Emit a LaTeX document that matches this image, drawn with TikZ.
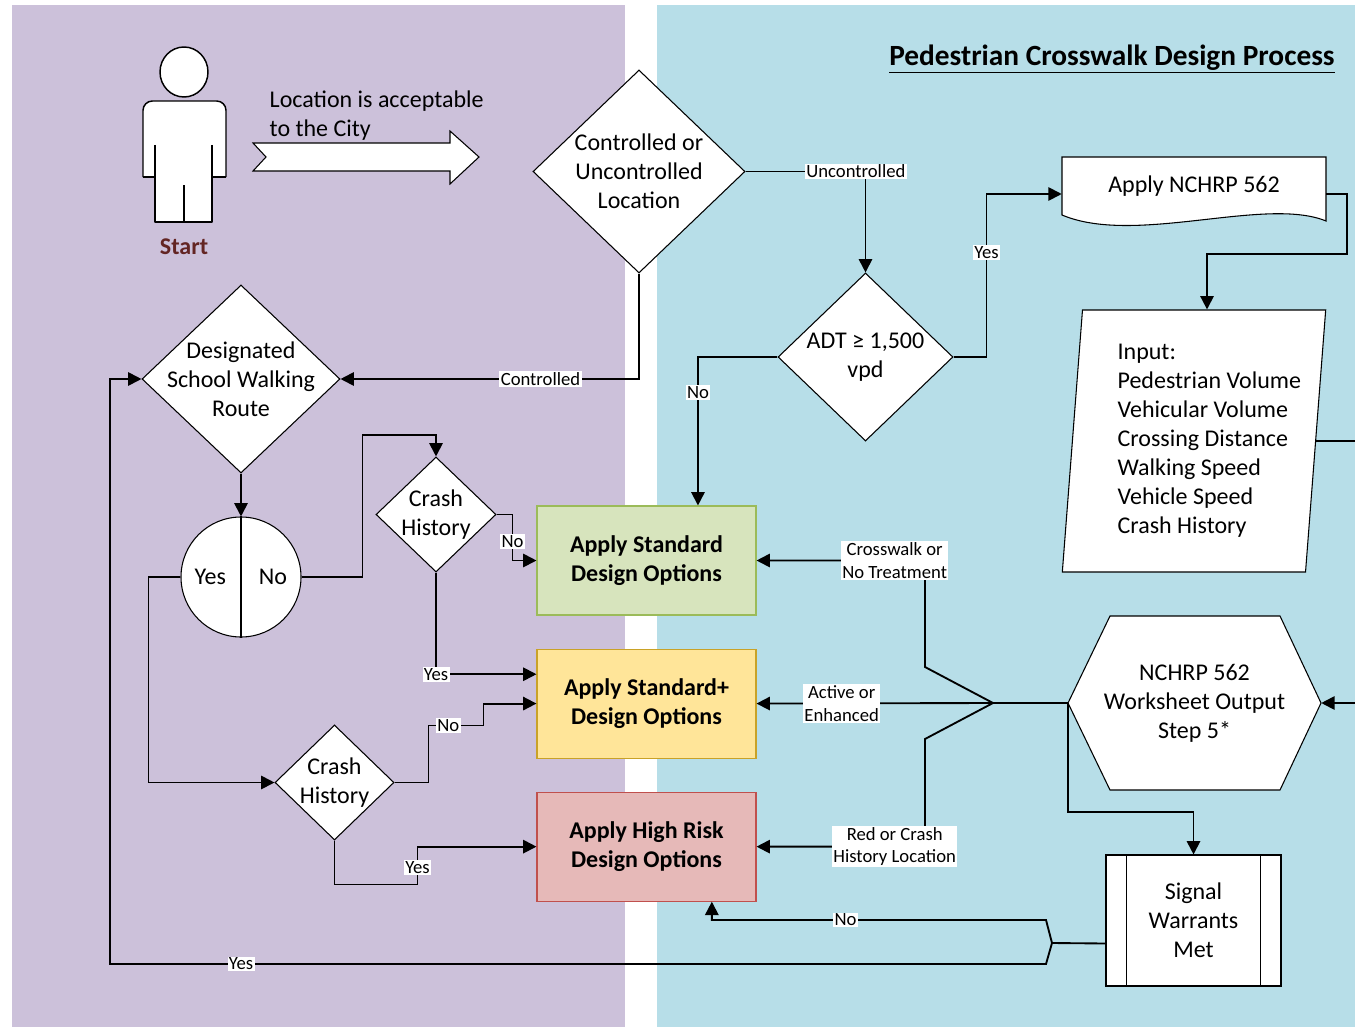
\documentclass[tikz,border=0pt]{standalone}
\usepackage{fontspec}
\setmainfont{Carlito}
\usepackage{tikz}
\usetikzlibrary{arrows.meta,shapes.geometric,positioning,calc}

\definecolor{lilac}{HTML}{CCC1DA}
\definecolor{aqua}{HTML}{B7DEE8}
\definecolor{stdfill}{HTML}{D7E4BD}
\definecolor{stdline}{HTML}{9BBB59}
\definecolor{plusfill}{HTML}{FFE599}
\definecolor{plusline}{HTML}{C9A227}
\definecolor{riskfill}{HTML}{E6B9B8}
\definecolor{riskline}{HTML}{C0504D}
\definecolor{startred}{HTML}{632523}

\begin{document}
\begin{tikzpicture}[x=0.75pt, y=-0.75pt, node distance=24.75pt,
	font=\fontsize{18}{21.75}\selectfont,
	shp/.style={draw, line width=0.8pt, fill=white},
	body/.style={draw, line width=1.1pt, line join=round},
	dia/.style={shp, diamond, inner sep=-8pt, align=center},
	box/.style={draw, line width=0.8pt, minimum width=164.25pt, minimum height=81.75pt, align=center, font=\fontsize{18}{21.75}\selectfont\bfseries},
	conn/.style={line width=1.4pt, -{Triangle[length=10pt, width=10pt]}},
	wire/.style={line width=1.4pt},
	lbl/.style={fill=white, inner sep=1pt, align=center, font=\fontsize{14}{17}\selectfont}]
	\useasboundingbox (0,0) rectangle (1355,1027);
	\fill[lilac] (12,5) rectangle (625,1027);
	\fill[aqua] (657,5) rectangle (1355,1027);

	% start figure and arrow
	\draw[body, fill=white] (184,72) ellipse [x radius=24, y radius=25];
	\fill[white, rounded corners=7pt] (143,177) -- (143,101) -- (226,101) -- (226,177) -- cycle;
	\fill[white] (143,150) rectangle (226,177);
	\fill[white] (155,170) rectangle (212,222);
	\draw[body, rounded corners=7pt] (143,177) -- (143,101) -- (226,101) -- (226,177);
	\draw[body] (143,177) -- (155,177) -- (155,222) -- (212,222) -- (212,177) -- (226,177);
	\draw[body] (155,145) -- (155,177) (212,145) -- (212,177) (184,185) -- (184,222);
	\node (start) [text=startred, font=\fontsize{18}{21.75}\selectfont\bfseries] at (184,247) {Start};
	\node (loc) [align=left, anchor=west] at (265,116) {Location is acceptable\\to the City};
	\draw[shp] (253,143) -- (450,143) -- (450,131) -- (479,157) -- (450,184) -- (450,171) -- (253,171) -- (266,157) -- cycle;

	\node (title) at (1112,59) {\fontsize{22}{26}\selectfont\bfseries\underline{Pedestrian Crosswalk Design Process}};

	% decisions
	\node (ctrl) [dia, minimum width=159pt, minimum height=152.25pt] at (639,171.5) {Controlled or\\Uncontrolled\\Location};
	\node (adt) [dia, minimum width=131.25pt, minimum height=126pt] at (865.5,357) {ADT ≥ 1,500\\vpd};
	\node (dswr) [dia, minimum width=148.5pt, minimum height=141pt] at (241,379) {Designated\\School Walking\\Route};
	\node (ch1) [dia, minimum width=90pt, minimum height=86.25pt] at (436,514.5) {Crash\\History};
	\node (ch2) [dia, minimum width=89.25pt, minimum height=86.25pt] at (334.5,782.5) {Crash\\History};

	\node (yn) [shp, circle, minimum size=90pt, inner sep=0pt] at (241,577) {};
	\draw[line width=0.8pt] (yn.north) -- (yn.south);
	\node (yes) at ([xshift=-23pt]yn.center) {Yes};
	\node (no) at ([xshift=24pt]yn.center) {No};

	% design options
	\node (std) [box, fill=stdfill, draw=stdline] at (646.5,560.5) {Apply Standard\\Design Options};
	\node (stdp) [box, fill=plusfill, draw=plusline, below=of std] {Apply Standard+\\Design Options};
	\node (hr) [box, fill=riskfill, draw=riskline, below=of stdp] {Apply High Risk\\Design Options};

	% NCHRP side
	\draw[shp] (1062,157) -- (1326,157) -- (1326,221) .. controls (1265,196) and (1135,246) .. (1062,215) -- cycle;
	\node (doc) [minimum width=198pt] at (1194,186) {Apply NCHRP 562};
	\node (inp) [shp, trapezium, trapezium left angle=84.3, trapezium right angle=95.7, trapezium stretches=true, minimum width=198pt, minimum height=196.5pt, align=left] at (1194,441)
		{\hspace*{23pt}Input:\\\hspace*{23pt}Pedestrian Volume\\\hspace*{23pt}Vehicular Volume\\\hspace*{23pt}Crossing Distance\\\hspace*{23pt}Walking Speed\\\hspace*{23pt}Vehicle Speed\\\hspace*{23pt}Crash History};
	\draw[shp] (1068,703) -- (1110,616) -- (1280,616) -- (1321,703) -- (1280,790) -- (1110,790) -- cycle;
	\node (hex) [minimum width=189.75pt, minimum height=130.5pt, align=center] at (1194.5,703) {NCHRP 562\\Worksheet Output\\Step 5*};
	\node (sig) [shp, minimum width=131.25pt, minimum height=98.25pt, align=center] at (1193.5,920.5) {Signal\\Warrants\\Met};
	\draw[line width=0.8pt] ([xshift=15.75pt]sig.north west) -- ([xshift=15.75pt]sig.south west);
	\draw[line width=0.8pt] ([xshift=-15.75pt]sig.north east) -- ([xshift=-15.75pt]sig.south east);

	\coordinate (rim1) at (1355,441);
	\coordinate (rim2) at (1355,703);
	\coordinate (fork) at (993,703);
	\coordinate (fork2) at (1052,943);

	% connectors
	\draw[conn] (ctrl.east) -- node[lbl, pos=0.92] (lunc) {Uncontrolled} (ctrl.east -| adt.north) -- (adt.north);
	\draw[conn] (ctrl.south) -- (ctrl.south |- dswr.east) -- node[lbl, pos=0.33] (lctl) {Controlled} (dswr.east);
	\draw[conn] (adt.east) -- ++(33,0) |- node[lbl, pos=0.32] (lyes1) {Yes} ([yshift=-6pt]doc.west);
	\draw[conn] (adt.west) -| node[lbl, pos=0.62] (lno1) {No} ([xshift=38.6pt]std.north);
	\draw[conn] ([yshift=-6pt]doc.east) -- ++(21,0) -- ++(0,60) -| ([xshift=9.75pt]inp.north);
	\draw[wire] (inp.east) -- (rim1);
	\draw[conn] (rim2) -- (hex.east);

	\draw[wire] (hex.west) -- (fork);
	\draw[conn] (fork) -- node[lbl, pos=0.64] (lact) {Active or\\Enhanced} (stdp.east);
	\draw[conn] (fork) -- ++(-68,-36) |- node[lbl, pos=0.59] (lcw) {Crosswalk or\\No Treatment} (std.east);
	\draw[conn] (fork) -- ++(-68,36) |- node[lbl, pos=0.59] (lred) {Red or Crash\\History Location} (hr.east);
	\draw[conn] (hex.west) -- ++(0,109) -| (sig.north);

	\draw[wire] ([yshift=-17.25pt]sig.west) -- (fork2);
	\draw[conn] (fork2) -- ++(-6,-23) -| node[lbl, pos=0.3] (lno2) {No} ([xshift=49pt]hr.south);
	\draw[conn] (fork2) -- ++(-6,21) -- node[lbl, pos=0.86] (lyes2) {Yes} ++(-936,0) |- (dswr.west);

	\draw[conn] (dswr.south) -- (yn.north);
	\draw[conn] (yn.east) -- ++(61,0) -- ++(0,-142) -| (ch1.north);
	\draw[conn] (ch1.east) -- ++(16,0) |- node[lbl, pos=0.29] (lno3) {No} (std.west);
	\draw[conn] (ch1.south) |- node[lbl, pos=0.5] (lyes3) {Yes} ([yshift=22pt]stdp.west);
	\draw[conn] (yn.west) -- ++(-32,0) |- (ch2.west);
	\draw[conn] (ch2.east) -- ++(34,0) |- node[lbl, pos=0.68] (lno4) {No} ++(55,-57) |- (stdp.west);
	\draw[conn] (ch2.south) |- ++(83,44) |- node[lbl, pos=0.22] (lyes4) {Yes} (hr.west);
\end{tikzpicture}
\end{document}
